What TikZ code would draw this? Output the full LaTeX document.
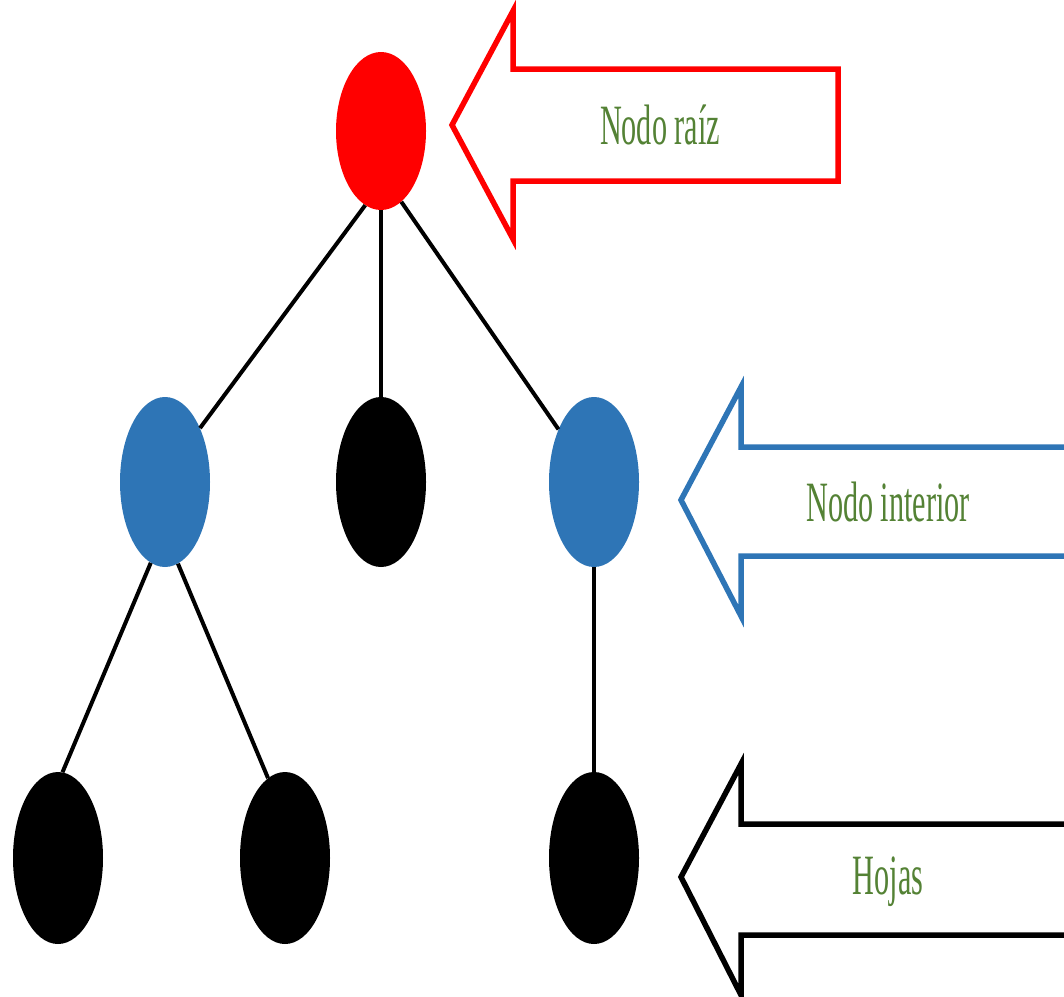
\documentclass[tikz,border=0pt]{standalone}
\usepackage{fontspec}
\setmainfont{Liberation Serif}
\usetikzlibrary{shapes.geometric}
\definecolor{rootred}{HTML}{FF0000}
\definecolor{intblue}{HTML}{2E75B6}
\definecolor{labgreen}{HTML}{548235}
\tikzset{
  treenode/.style={ellipse, minimum width=90pt, minimum height=170pt, inner sep=0pt},
  edge/.style={line width=4pt, black},
  bigarrow/.style={line width=5.5pt, fill=white, line join=miter},
  labeltext/.style={text=labgreen, inner sep=0pt, font=\fontsize{57}{60}\selectfont}
}
\newcommand{\cond}[1]{\scalebox{0.53}[1]{#1}}
\begin{document}
\begin{tikzpicture}[x=1pt,y=-1pt]
\useasboundingbox (0,0) rectangle (1064,996);
\clip (0,0) rectangle (1064,996);
% nodes
\node[treenode, fill=rootred, minimum height=158pt] (root) at (381,131) {};
\node[treenode, fill=intblue] (b1) at (165,482) {};
\node[treenode, fill=black] (m) at (381,482) {};
\node[treenode, fill=intblue] (b2) at (594,482) {};
\node[treenode, fill=black, minimum height=172pt] (l1) at (58,858) {};
\node[treenode, fill=black, minimum height=172pt] (l2) at (285,858) {};
\node[treenode, fill=black, minimum height=172pt] (l3) at (594,858) {};
% edges
\draw[edge] (root.258) -- (b1.57);
\draw[edge] (root.south) -- (m.north);
\draw[edge] (root.286) -- (b2.124);
\draw[edge] (b1.260) -- (l1.87);
\draw[edge] (b1.279) -- (l2.102);
\draw[edge] (b2.south) -- (l3.north);
% callout arrows
\draw[bigarrow, draw=rootred] (452,125) -- (513,11) -- (513,69) -- (838,69) -- (838,181) -- (513,181) -- (513,239) -- cycle;
\draw[bigarrow, draw=intblue] (681,500) -- (741,387) -- (741,447) -- (1080,447) -- (1080,556) -- (741,556) -- (741,616) -- cycle;
\draw[bigarrow, draw=black] (681,877) -- (741,764) -- (741,824) -- (1080,824) -- (1080,935) -- (741,935) -- (741,995) -- cycle;
% labels
\node[labeltext] (t1) at (660,125) {\cond{Nodo raíz}};
\node[labeltext] (t2) at (888,502) {\cond{Nodo interior}};
\node[labeltext] (t3) at (888,882) {\cond{Hojas}};
\end{tikzpicture}
\end{document}
